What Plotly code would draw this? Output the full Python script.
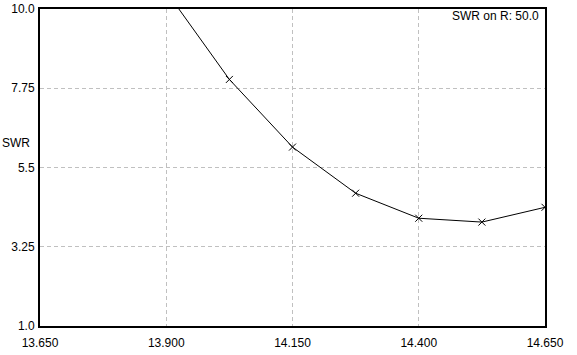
import plotly.graph_objects as go

freq = [13.900, 14.025, 14.150, 14.275, 14.400, 14.525, 14.650]
swr = [10.5, 8.0, 6.08, 4.77, 4.06, 3.95, 4.37]

x_ticks = [13.650, 13.900, 14.150, 14.400, 14.650]
x_labels = ["13.650", "13.900", "14.150", "14.400", "14.650"]
y_ticks = [1.0, 3.25, 5.5, 7.75, 10.0]
y_labels = ["1.0", "3.25", "5.5", "7.75", "10.0"]

font = dict(family="Liberation Sans, Arial, sans-serif", size=12, color="black")

fig = go.Figure()
fig.add_trace(go.Scatter(
    x=freq, y=swr, mode="lines+markers",
    line=dict(color="black", width=1),
    marker=dict(symbol="x-thin", size=7, line=dict(color="black", width=1), color="black"),
    cliponaxis=True, showlegend=False,
))

axis_common = dict(
    showline=True, linecolor="black", linewidth=2, mirror=True,
    showgrid=True, gridcolor="#c0c0c0", griddash="4px,3px", gridwidth=1,
    zeroline=False, ticks="", tickfont=font, automargin=False,
)
fig.update_xaxes(range=[13.650, 14.650], tickvals=x_ticks, ticktext=x_labels,
                 ticklabelstandoff=5, **axis_common)
fig.update_yaxes(range=[1.0, 10.0], tickvals=y_ticks, ticktext=y_labels,
                 ticklabelstandoff=1, **axis_common)

fig.add_annotation(text="SWR", xref="paper", yref="y", x=-40/505.5, y=6.2,
                   xanchor="left", yanchor="middle", showarrow=False, font=font)
fig.add_annotation(text="SWR on R: 50.0", xref="paper", yref="paper", x=(541-40)/505.5,
                   y=1 - (16-9)/317, xanchor="right", yanchor="middle", showarrow=False, font=font)

fig.update_layout(
    width=577, height=355,
    margin=dict(l=40, r=32, t=9, b=29),
    paper_bgcolor="white", plot_bgcolor="white",
    font=font,
)
fig.write_html("out.html")
